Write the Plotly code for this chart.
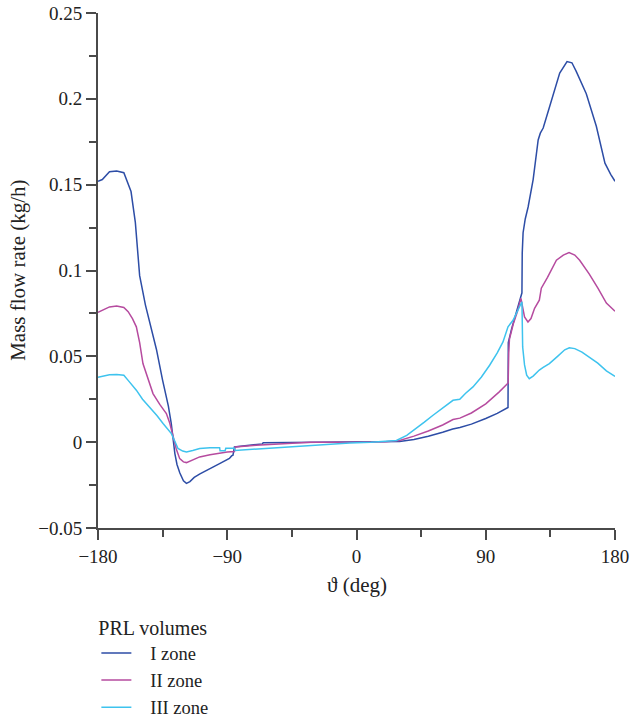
import plotly.graph_objects as go

# ---- Data ----
deg_I = [-180, -177, -172, -167, -162, -159.5, -157, -154, -151, -147, -143, -139.3, -135, -131,
         -129, -127.5, -126.5, -125, -123, -120.5, -118.4, -116, -113, -109, -104, -100, -96,
         -95.3, -94, -91, -88.5, -87, -86, -85, -80, -75, -70, -65.5, -65, -50, -30, 0, 20,
         30, 40, 50, 60, 67, 72, 80, 90, 98, 105.5, 105.7, 108, 111, 114, 115.2, 115.4, 116,
         117.5, 119.5, 123, 126.5, 128, 130, 134.5, 141.5, 146.6, 150, 153, 160, 167, 173, 177, 180]
flow_I = [0.152, 0.153, 0.1575, 0.158, 0.157, 0.152, 0.146, 0.128, 0.097, 0.080, 0.066, 0.054, 0.036, 0.021,
          0.011, 0.0, -0.0065, -0.013, -0.018, -0.0225, -0.024, -0.023, -0.0205, -0.0185, -0.016, -0.0145, -0.0128,
          -0.0125, -0.0115, -0.0106, -0.0095, -0.008, -0.0076, -0.0028, -0.0024, -0.002, -0.0013, -0.001, -0.0003, -0.0002, 0.0, 0.0, 0.0,
          0.0004, 0.0015, 0.0034, 0.0058, 0.0077, 0.0085, 0.0105, 0.0138, 0.0168, 0.0202, 0.058, 0.066, 0.075, 0.084, 0.087, 0.110, 0.122,
          0.130, 0.137, 0.153, 0.176, 0.180, 0.183, 0.1955, 0.215, 0.2217, 0.221, 0.216, 0.203, 0.184, 0.1625, 0.156, 0.152]

deg_II = [-180, -176, -172, -167, -162, -159, -156, -153.3, -151, -148.7, -145, -141.7, -137, -132.4,
          -130, -127.8, -125.5, -123.1, -120.5, -118.4, -115, -109.2, -102, -95.3, -90, -85, -84.5,
          -70, -50, -32, 0, 20, 30, 40, 50, 60, 67.2, 72, 80, 90, 99.4, 104.5, 105.6, 106, 106.5,
          109.2, 112, 114.5, 115.5, 117, 119.4, 121.5, 124, 127.3, 128.7, 133, 139.2, 144, 148,
          152, 155.4, 162, 168.1, 174, 180]
flow_II = [0.0756, 0.077, 0.0788, 0.0793, 0.0785, 0.076, 0.072, 0.0672, 0.058, 0.0458, 0.036, 0.0283, 0.022, 0.0167,
           0.011, 0.003, -0.004, -0.0096, -0.0115, -0.0119, -0.0108, -0.0086, -0.0073, -0.0063, -0.0058, -0.0055, -0.0028,
           -0.0018, -0.0008, 0.0, 0.0, 0.0003, 0.001, 0.0035, 0.0065, 0.010, 0.0132, 0.014, 0.017, 0.0223, 0.0293, 0.0332, 0.0345, 0.052, 0.060,
           0.069, 0.076, 0.0838, 0.080, 0.073, 0.070, 0.072, 0.078, 0.0827, 0.0897, 0.096, 0.106, 0.109, 0.1105,
           0.109, 0.106, 0.098, 0.0897, 0.081, 0.0763]

deg_III = [-180, -176, -172, -167, -162, -159, -156, -153.3, -149, -144, -139, -134.7, -131, -128.9,
           -126.5, -124.3, -121, -118.4, -114, -109.2, -102, -95.3, -95, -91.5, -91, -85, -84.5, -70,
           -50, -39.7, -20, -4.7, 10, 20, 27.8, 35, 41.7, 47, 53.3, 60, 67.2, 71.9, 76, 81.1, 87,
           92.7, 98, 102, 105.5, 109, 112, 113.9, 115.2, 115.7, 117, 118.5, 120.3, 123, 127.3, 130,
           134.3, 140, 145, 148.2, 152, 157, 162.1, 168, 174, 180]
flow_III = [0.0378, 0.0385, 0.0392, 0.0394, 0.039, 0.036, 0.033, 0.0303, 0.025, 0.0205, 0.0155, 0.0109, 0.0075, 0.005,
            0.0005, -0.0037, -0.0052, -0.0057, -0.0048, -0.0037, -0.0033, -0.0032, -0.005, -0.005, -0.0035, -0.0035, -0.0048, -0.004,
            -0.0028, -0.0022, -0.0012, -0.0005, 0.0, 0.0004, 0.001, 0.004, 0.0079, 0.0115, 0.0157, 0.020, 0.0244, 0.025, 0.0285, 0.0322, 0.038,
            0.0448, 0.052, 0.0584, 0.0672, 0.071, 0.076, 0.0788, 0.0818, 0.0555, 0.045, 0.039, 0.037, 0.0385, 0.042, 0.0435,
            0.0458, 0.050, 0.0538, 0.055, 0.0545, 0.0525, 0.0497, 0.046, 0.0415, 0.0383]

series_names = ["I zone", "II zone", "III zone"]
series_colors = ["#2D4DA6", "#B64B9F", "#3EC3EE"]

x_tickvals = [-180, -90, 0, 90, 180]
x_ticktext = ["\u2212180", "\u221290", "0", "90", "180"]
y_tickvals = [-0.05, 0, 0.05, 0.1, 0.15, 0.2, 0.25]
y_ticktext = ["\u22120.05", "0", "0.05", "0.1", "0.15", "0.2", "0.25"]

FONT = "Liberation Serif"
AX = "#4a4a4a"
PAD = "\u00a0\u00a0\u00a0"

fig = go.Figure()
for i, (xs, ys) in enumerate([(deg_I, flow_I), (deg_II, flow_II), (deg_III, flow_III)]):
    fig.add_trace(go.Scatter(x=xs, y=ys, mode="lines", name=PAD + series_names[i],
                             legendgroup=f"g{i}",
                             line=dict(color=series_colors[i], width=1.5)))

fig.update_layout(
    width=634, height=721,
    margin=dict(l=98, r=19, t=13, b=193, autoexpand=False),
    paper_bgcolor="white", plot_bgcolor="white",
    font=dict(family=FONT, size=18, color="#222"),
    showlegend=True,
    legend=dict(
        title=dict(text="PRL volumes", font=dict(family=FONT, size=20)),
        xref="container", yref="container",
        x=0.152, xanchor="left", y=0.156, yanchor="top",
        font=dict(family=FONT, size=18.5),
        tracegroupgap=0,
        bgcolor="rgba(0,0,0,0)",
    ),
    xaxis=dict(
        range=[-180, 180], showgrid=False, zeroline=False, automargin=False,
        showline=True, linecolor=AX, linewidth=2,
        ticks="outside", ticklen=10, tickwidth=1.5, tickcolor=AX,
        tickvals=x_tickvals, ticktext=x_ticktext,
        tickfont=dict(size=19),
        minor=dict(dtick=45, tick0=-180, ticks="outside", ticklen=7, tickwidth=1.5, tickcolor=AX),
    ),
    yaxis=dict(
        range=[-0.05, 0.25], showgrid=False, zeroline=False, automargin=False,
        showline=True, linecolor=AX, linewidth=2,
        ticks="outside", ticklen=10, tickwidth=1.5, tickcolor=AX,
        tickvals=y_tickvals, ticktext=y_ticktext,
        tickfont=dict(size=19),
        minor=dict(dtick=0.025, tick0=0, ticks="outside", ticklen=7, tickwidth=1.5, tickcolor=AX),
    ),
    annotations=[
        dict(text="\u03d1 (deg)", xref="paper", yref="paper", x=0.5, y=-0.11,
             xanchor="center", yanchor="middle", showarrow=False,
             font=dict(family=FONT, size=21)),
        dict(text="Mass flow rate (kg/h)", xref="paper", yref="paper", x=-0.156, y=0.5,
             xanchor="center", yanchor="middle", textangle=-90, showarrow=False,
             font=dict(family=FONT, size=21)),
    ],
)

fig.write_html("out.html")
